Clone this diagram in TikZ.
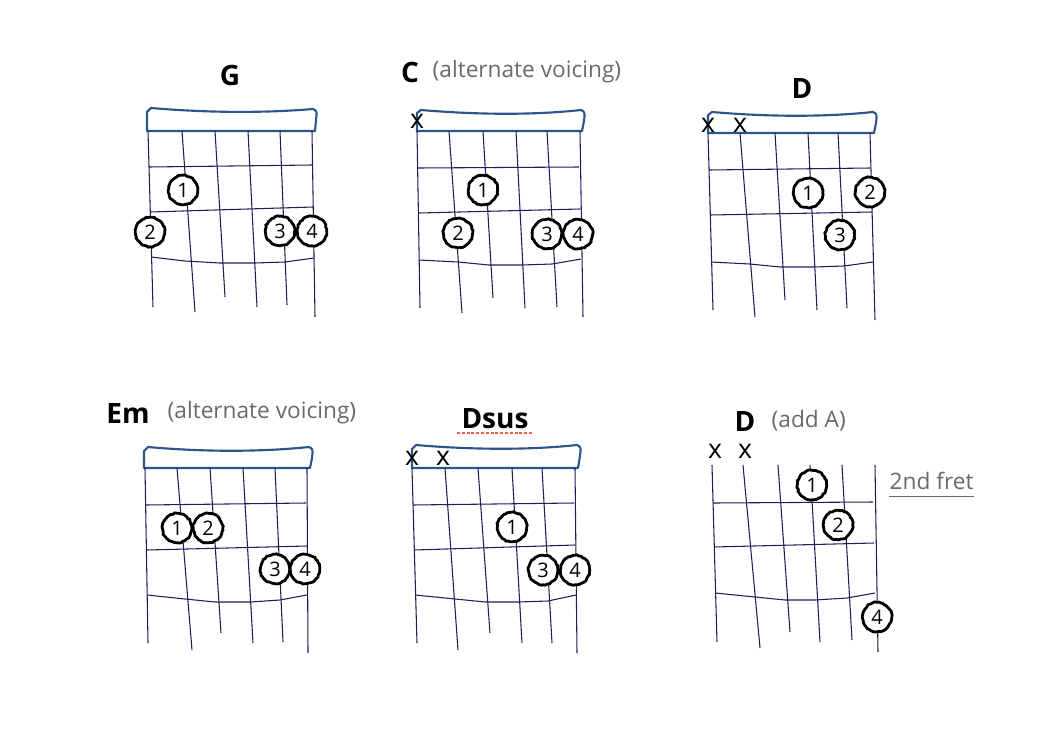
\documentclass[tikz,border=0pt]{standalone}
\usepackage{fontspec}
\setmainfont{Open Sans}
\usepackage{tikz}
\usetikzlibrary{shadows,decorations.pathmorphing}
\definecolor{nutblue}{RGB}{45,85,135}
\definecolor{wireblue}{RGB}{28,32,88}
\definecolor{notegray}{RGB}{105,105,105}
\definecolor{squiggle}{RGB}{232,92,80}

\begin{document}
\begin{tikzpicture}[x=0.75pt,y=-0.75pt,
  wire/.style={wireblue,line width=0.8pt,line join=round},
  nutbox/.style={nutblue,line width=1.6pt,line join=round},
  finger/.style={circle,draw=black,fill=white,line width=2.1pt,minimum size=22pt,
    inner sep=0pt,font=\fontsize{15}{15}\selectfont,
    decorate,decoration={random steps,segment length=1.6pt,amplitude=0.4pt},
    drop shadow={shadow xshift=0.4pt,shadow yshift=-0.7pt,opacity=0.45}},
  chordname/.style={font=\fontsize{21}{22}\selectfont\bfseries},
  aside/.style={notegray,font=\fontsize{17}{19}\selectfont,anchor=west},
  mute/.style={font=\fontsize{20}{20}\selectfont,inner sep=0pt}]
  \useasboundingbox (0,0) rectangle (1057,729);
  % ---- G ----
  \node[chordname] (gname) at (230,75) {G};
  \draw[nutbox] (147,131) -- (147,112) -- (151,108) .. controls (210,113) and (265,113) ..
        (313,109) .. controls (317,111) .. (316,120) -- (315,131) -- cycle;
  \foreach \a/\b/\c in {148/153/307,182/195/312,215/225/297,248/257/307,280/287/305,312/315/317}{
    \draw[wire] (\a,131) -- (\b,\c);}
  \draw[wire] (149,167) -- (312,165);
  \draw[wire] (150,212) -- (313,207);
  \draw[wire] (151,257) -- (185,261) -- (220,263) -- (255,263) -- (285,262) -- (314,258);
  \node[finger] (g1) at (183,190) {1};
  \node[finger] (g2) at (150,232) {2};
  \node[finger] (g3) at (280,231) {3};
  \node[finger] (g4) at (312,231) {4};
  % ---- C (alternate voicing) ----
  \node[chordname] (cname) at (410,72) {C};
  \node[aside] (cnote) at (428,72) {(alternate voicing)};
  \draw[nutbox] (417,131) -- (417,113) -- (421,110) .. controls (480,115) and (535,115) ..
        (581,110) .. controls (585,112) .. (584,121) -- (582,131) -- cycle;
  \foreach \a/\b/\c in {417/420/308,449/462/313,483/493/298,516/525/308,547/557/307,580/583/317}{
    \draw[wire] (\a,131) -- (\b,\c);}
  \draw[wire] (418,168) -- (579,167);
  \draw[wire] (419,213) -- (580,209);
  \draw[wire] (419,260) -- (458,262) -- (489,265) -- (522,265) -- (552,264) -- (581,259);
  \node[mute] (cx) at (417,121) {x};
  \node[finger] (c1) at (483,190) {1};
  \node[finger] (c2) at (458,233) {2};
  \node[finger] (c3) at (547,234) {3};
  \node[finger] (c4) at (578,234) {4};
  % ---- D ----
  \node[chordname] (dname) at (802,89) {D};
  \draw[nutbox] (708,133) -- (708,115) -- (712,112) .. controls (770,117) and (825,117) ..
        (873,112) .. controls (877,114) .. (876,123) -- (874,133) -- cycle;
  \foreach \a/\b/\c in {708/713/310,740/755/317,775/785/300,808/817/310,838/847/308,870/875/320}{
    \draw[wire] (\a,133) -- (\b,\c);}
  \draw[wire] (709,170) -- (870,168);
  \draw[wire] (710,215) -- (872,212);
  \draw[wire] (711,262) -- (750,264) -- (780,267) -- (814,267) -- (844,266) -- (873,262);
  \node[mute] (dxa) at (708,125) {x};
  \node[mute] (dxb) at (740,125) {x};
  \node[finger] (d1) at (808,193) {1};
  \node[finger] (d2) at (870,192) {2};
  \node[finger] (d3) at (840,235) {3};
  % ---- Em (alternate voicing) ----
  \node[chordname] (emname) at (128,413) {Em};
  \node[aside] (emnote) at (163,413) {(alternate voicing)};
  \draw[nutbox] (144,468) -- (144,451) -- (148,447) .. controls (205,452) and (260,452) ..
        (309,447) .. controls (313,449) .. (312,458) -- (310,468) -- cycle;
  \foreach \a/\b/\c in {145/148/643,177/192/650,210/221/633,243/253/643,275/283/642,307/308/653}{
    \draw[wire] (\a,468) -- (\b,\c);}
  \draw[wire] (146,505) -- (306,503);
  \draw[wire] (147,550) -- (307,546);
  \draw[wire] (147,595) -- (185,599) -- (215,602) -- (250,602) -- (280,600) -- (307,595);
  \node[finger] (em1) at (177,528) {1};
  \node[finger] (em2) at (208,528) {2};
  \node[finger] (em3) at (275,569) {3};
  \node[finger] (em4) at (305,569) {4};
  % ---- Dsus ----
  \node[chordname] (dsusname) at (495,419) {Dsus};
  \draw[squiggle,line width=1.8pt,dash pattern=on 2.2pt off 1.4pt] (457,433) -- (533,433);
  \draw[nutbox] (412,468) -- (412,449) -- (416,445) .. controls (475,450) and (530,450) ..
        (577,445) .. controls (581,447) .. (580,456) -- (578,468) -- cycle;
  \foreach \a/\b/\c in {412/417/643,445/458/650,478/490/633,512/522/643,542/552/643,575/577/653}{
    \draw[wire] (\a,468) -- (\b,\c);}
  \draw[wire] (413,505) -- (574,503);
  \draw[wire] (414,550) -- (575,545);
  \draw[wire] (415,595) -- (455,599) -- (485,602) -- (518,602) -- (548,601) -- (576,595);
  \node[mute] (dsxa) at (412,458) {x};
  \node[mute] (dsxb) at (443,458) {x};
  \node[finger] (ds1) at (512,527) {1};
  \node[finger] (ds3) at (543,570) {3};
  \node[finger] (ds4) at (575,570) {4};
  % ---- D (add A), 2nd fret ----
  \node[chordname] (daname) at (745,421) {D};
  \node[aside] (danote) at (767,421) {(add A)};
  \foreach \a/\b/\c in {712/717/642,743/760/648,778/790/632,810/820/642,842/852/640,875/878/652}{
    \draw[wire] (\a,465) -- (\b,\c);}
  \draw[wire] (713,503) -- (873,502);
  \draw[wire] (714,547) -- (874,543);
  \draw[wire] (715,593) -- (755,597) -- (785,600) -- (815,600) -- (847,598) -- (875,593);
  \node[mute] (daxa) at (715,451) {x};
  \node[mute] (daxb) at (745,451) {x};
  \node[finger] (da1) at (812,485) {1};
  \node[finger] (da2) at (838,525) {2};
  \node[finger] (da4) at (877,617) {4};
  \node[aside] (fretnote) at (885,481) {2nd fret};
  \draw[notegray,line width=0.7pt] ([xshift=3pt,yshift=-5pt]fretnote.base west)
        -- ([xshift=-3pt,yshift=-5pt]fretnote.base east);
\end{tikzpicture}
\end{document}
